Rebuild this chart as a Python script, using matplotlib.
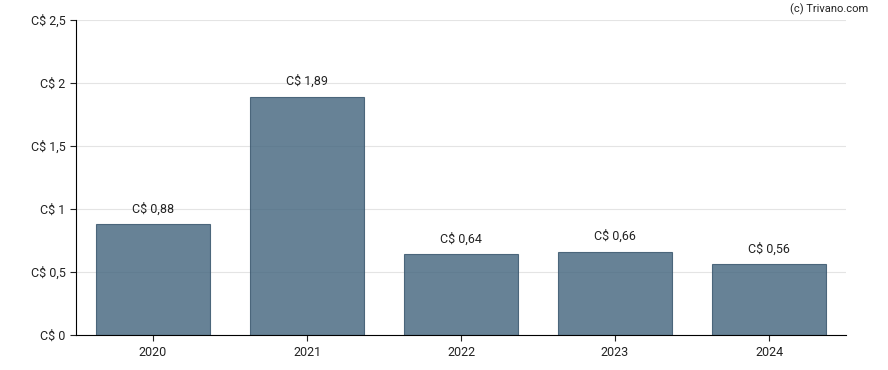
import numpy as np
import matplotlib.pyplot as plt

years = ['2020', '2021', '2022', '2023', '2024']
values = [0.88, 1.89, 0.64, 0.66, 0.56]
yticks = [0, 0.5, 1, 1.5, 2, 2.5]

def fmt(v):
    s = ('%.2f' % v).rstrip('0').rstrip('.')
    return 'C$ ' + s.replace('.', ',')

plt.rcParams['font.family'] = ['Roboto', 'DejaVu Sans']

fig = plt.figure(figsize=(8.88, 3.70), dpi=100)
ax = fig.add_axes([76/888, 35/370, 770/888, 315/370])

x = np.arange(len(years))
ax.bar(x, values, width=0.745, color='#45677f', alpha=0.82,
       edgecolor='#34526a', linewidth=0.8, zorder=2)
for xi, v in zip(x, values):
    ax.text(xi, v + 0.07, 'C$ ' + ('%.2f' % v).replace('.', ','),
            ha='center', va='bottom', fontsize=9, color='#222222')

ax.set_xlim(-0.5, 4.5)
ax.set_ylim(0, 2.5)
ax.set_xticks(x)
ax.set_xticklabels(years)
ax.set_yticks(yticks)
ax.set_yticklabels([fmt(t) for t in yticks])
ax.yaxis.grid(True, color='#e4e4e4', linewidth=0.8, zorder=1)
ax.set_axisbelow(True)
for s in ['top', 'right']:
    ax.spines[s].set_visible(False)
ax.tick_params(labelsize=9, length=4, colors='#222222')
ax.tick_params(axis='x', pad=4)

fig.text(868/888, 1 - 9/370, '(c) Trivano.com', ha='right', va='center',
         fontsize=8, color='#222222')

fig.savefig('out.png', dpi=100)
